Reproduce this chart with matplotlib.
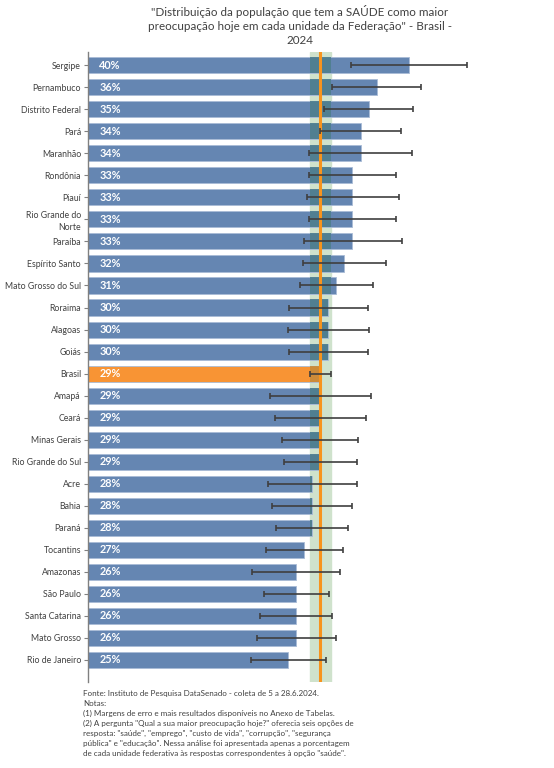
import numpy as np
import matplotlib
matplotlib.use("Agg")
import matplotlib.pyplot as plt

plt.rcParams['font.family'] = ['Lato', 'DejaVu Sans']

# estados (de cima para baixo) e % que citaram saude
states = ["Sergipe", "Pernambuco", "Distrito Federal", "Pará", "Maranhão",
          "Rondônia", "Piauí", "Rio Grande do\nNorte", "Paraíba", "Espírito Santo",
          "Mato Grosso do Sul", "Roraima", "Alagoas", "Goiás", "Brasil",
          "Amapá", "Ceará", "Minas Gerais", "Rio Grande do Sul", "Acre",
          "Bahia", "Paraná", "Tocantins", "Amazonas", "São Paulo",
          "Santa Catarina", "Mato Grosso", "Rio de Janeiro"]
values = [40, 36, 35, 34, 34, 33, 33, 33, 33, 32, 31, 30, 30, 30, 29,
          29, 29, 29, 29, 28, 28, 28, 27, 26, 26, 26, 26, 25]
# limites inferior / superior da margem de erro
ci_low = [32.8, 30.5, 29.5, 29.0, 27.6, 27.6, 27.3, 27.6, 26.9, 26.8,
          26.5, 25.1, 24.9, 25.1, 27.7, 22.7, 23.3, 24.2, 24.5, 22.5,
          23.0, 23.5, 22.2, 20.5, 21.9, 21.5, 21.1, 20.3]
ci_high = [47.3, 41.5, 40.5, 39.0, 40.4, 38.4, 38.8, 38.4, 39.2, 37.2,
           35.5, 34.9, 35.1, 34.9, 30.3, 35.3, 34.7, 33.7, 33.5, 33.5,
           33.0, 32.5, 31.8, 31.4, 30.1, 30.5, 30.9, 29.7]

title = ('"Distribuição da população que tem a SAÚDE como maior\n'
         'preocupação hoje em cada unidade da Federação" - Brasil -\n2024')
notes = ("Fonte: Instituto de Pesquisa DataSenado - coleta de 5 a 28.6.2024.\n"
         "Notas:\n"
         "(1) Margens de erro e mais resultados disponíveis no Anexo de Tabelas.\n"
         "(2) A pergunta \"Qual a sua maior preocupação hoje?\" oferecia seis opções de\n"
         "resposta: \"saúde\", \"emprego\", \"custo de vida\", \"corrupção\", \"segurança\n"
         "pública\" e \"educação\". Nessa análise foi apresentada apenas a porcentagem\n"
         "de cada unidade federativa às respostas correspondentes à opção \"saúde\".")

vals = np.array(values, dtype=float)
lo = np.array(ci_low)
hi = np.array(ci_high)
y = np.arange(len(states))
bi = states.index("Brasil")
br_val, br_lo, br_hi = vals[bi], lo[bi], hi[bi]

blue = "#6586b2"
orange = "#f89434"
colors = [orange if s == "Brasil" else blue for s in states]

fig = plt.figure(figsize=(5.54, 7.68), dpi=100)
ax = fig.add_axes([88 / 554, 1 - 682 / 768, 424 / 554, 630 / 768])

ax.barh(y, vals, height=0.73, color=colors, edgecolor="#a9bcd6",
        linewidth=0.6, zorder=2)

# faixa da margem de erro do Brasil
ax.axvspan(br_lo, br_hi, color="#cfe2cc", zorder=1)
over = np.clip(vals, br_lo, br_hi) - br_lo
over_cols = ["#c88a3a" if s == "Brasil" else "#4e7f8e" for s in states]
ax.barh(y, over, left=br_lo, height=0.73, color=over_cols, alpha=0.9,
        linewidth=0, zorder=3)
ax.axvline(br_val, color="#f7941d", linewidth=2.2, zorder=4)

ax.errorbar(vals, y, xerr=[vals - lo, hi - vals], fmt="none",
            ecolor="#3f3f3f", elinewidth=1.2, capsize=2.5, capthick=1.2,
            zorder=5)

for yi, v in zip(y, values):
    ax.text(1.4, yi, f"{v}%", color="white", fontsize=7.8, fontweight="bold",
            va="center", ha="left", zorder=6)

ax.set_xlim(0, 52.9)
ax.set_ylim(len(states) - 0.0, -0.6)
ax.set_yticks(y)
ax.set_yticklabels(states, fontsize=6.3, color="#404040", linespacing=1.35)
ax.set_xticks([])
ax.tick_params(axis="y", length=3, width=0.8, color="#808080", pad=2)
for side in ["top", "right", "bottom"]:
    ax.spines[side].set_visible(False)
ax.spines["left"].set_color("#808080")
ax.spines["left"].set_linewidth(1.0)

ax.set_title(title, fontsize=8.4, color="#404040", linespacing=1.3, pad=6)

fig.text(83 / 554, 1 - 690 / 768, notes, fontsize=5.75, color="#404040",
         va="top", ha="left", linespacing=1.48)

fig.savefig("out.png", dpi=100)
